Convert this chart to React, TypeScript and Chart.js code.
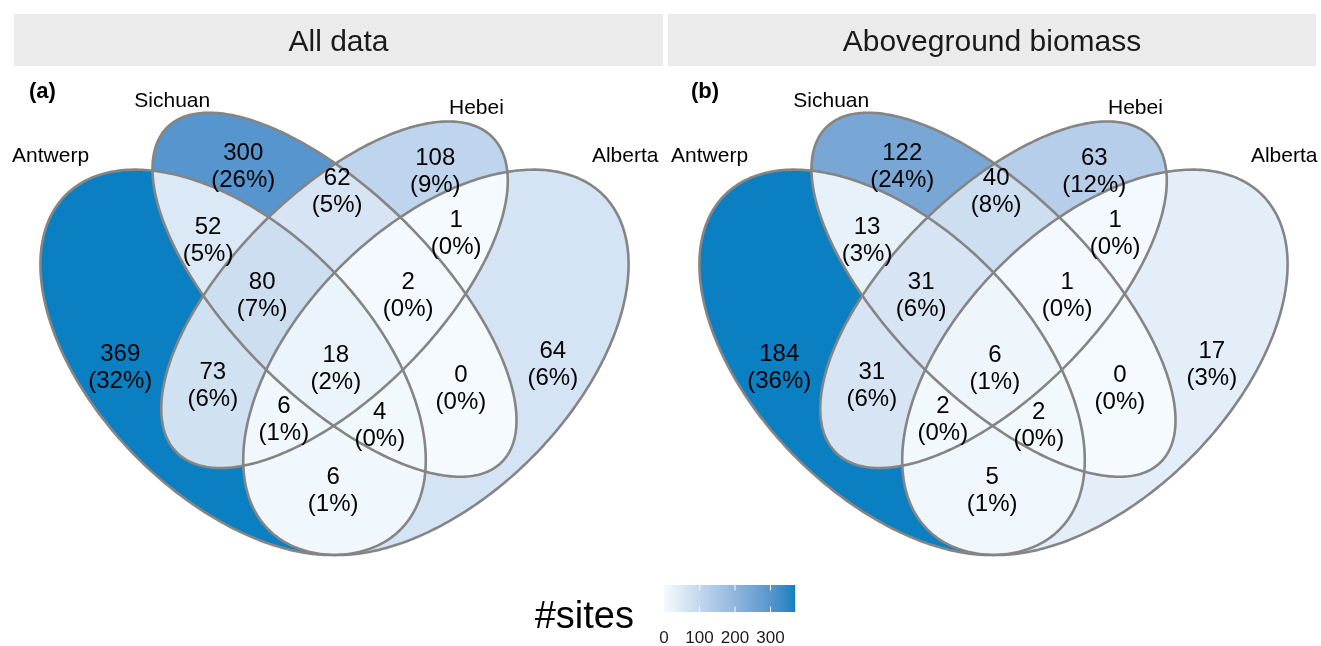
import React, { useEffect, useRef } from 'react';
import { Chart, registerables } from 'chart.js';

Chart.register(...registerables);

// ---------------- data ----------------
const SET_NAMES = ['Antwerp', 'Sichuan', 'Hebei', 'Alberta'];
const PANEL_TITLES = ['All data', 'Aboveground biomass'];
const PANEL_TAGS = ['(a)', '(b)'];
// region membership (indices into SET_NAMES)
const REGION_SETS = [
  [0], [1], [2], [3],
  [0, 1], [1, 2], [2, 3],
  [0, 1, 2], [1, 2, 3], [0, 1, 2, 3],
  [0, 2], [1, 3], [0, 2, 3], [0, 1, 3], [0, 3],
];
const COUNTS_ALL = [369, 300, 108, 64, 52, 62, 1, 80, 2, 18, 73, 0, 6, 4, 6];
const COUNTS_AGB = [184, 122, 63, 17, 13, 40, 1, 31, 1, 6, 31, 0, 2, 2, 5];
const PANEL_COUNTS = [COUNTS_ALL, COUNTS_AGB];
const LEGEND_TITLE = '#sites';
const LEGEND_TICKS = [0, 100, 200, 300];

// ---------------- geometry / style ----------------
const W = 1321;
const H = 646;
const LOW_COLOR = '#F4FAFE';
const HIGH_COLOR = '#0A80C2';
const EDGE_COLOR = '#858585';
const FONT = '"Liberation Sans", Arial, Helvetica, sans-serif';

// Venn ellipses in venn units: centre, semi-axes, rotation (deg)
const ELLIPSES = [
  { cx: 0.35, cy: 0.47, a: 0.35, b: 0.2, rot: 135 },
  { cx: 0.5, cy: 0.57, a: 0.35, b: 0.15, rot: 135 },
  { cx: 0.5, cy: 0.57, a: 0.33, b: 0.15, rot: 45 },
  { cx: 0.65, cy: 0.47, a: 0.35, b: 0.2, rot: 45 },
];
// set-name anchor (centre x, baseline y) in venn units
const SET_LABEL_ANCHORS = [
  [0.08, 0.767],
  [0.26, 0.848],
  [0.71, 0.838],
  [0.93, 0.767],
];
// region-label anchors in venn units (same order as REGION_SETS)
const REGION_LABEL_ANCHORS = [
  [0.183, 0.466], [0.365, 0.763], [0.649, 0.756], [0.823, 0.47],
  [0.313, 0.654], [0.504, 0.726], [0.68, 0.664],
  [0.393, 0.573], [0.609, 0.573], [0.502, 0.465],
  [0.32, 0.439], [0.687, 0.435], [0.425, 0.389], [0.567, 0.38], [0.498, 0.284],
];

const UNIT_PX = 676;
const ORIGIN_PX = { x: 334.5, y: 555 };
const ORIGIN_UNITS = { x: 0.5, y: 0.185 };
const PANEL_SHIFT = 659 / UNIT_PX;
const X_MIN = ORIGIN_UNITS.x - ORIGIN_PX.x / UNIT_PX;
const X_MAX = X_MIN + W / UNIT_PX;
const Y_MAX = ORIGIN_UNITS.y + ORIGIN_PX.y / UNIT_PX;
const Y_MIN = Y_MAX - H / UNIT_PX;

const STRIPS = [
  { x: 14, y: 14, w: 649, h: 52 },
  { x: 668, y: 14, w: 648, h: 52 },
];
const TAG_POS = [
  { x: 29, y: 98 },
  { x: 691, y: 98 },
];
const LEGEND_BAR = { x: 664, y: 585, w: 131, h: 27 };

// ---------------- helpers ----------------
function hexToRgb(h: string) {
  return [1, 3, 5].map((i) => parseInt(h.slice(i, i + 2), 16));
}
function toLin(c: number) {
  c /= 255;
  return c <= 0.04045 ? c / 12.92 : Math.pow((c + 0.055) / 1.055, 2.4);
}
function fromLin(c: number) {
  const v = c <= 0.0031308 ? 12.92 * c : 1.055 * Math.pow(c, 1 / 2.4) - 0.055;
  return Math.round(Math.max(0, Math.min(1, v)) * 255);
}
function rgbToLab(rgb: number[]) {
  const [R, G, B] = rgb.map(toLin);
  const X = (0.4124 * R + 0.3576 * G + 0.1805 * B) / 0.95047;
  const Y = 0.2126 * R + 0.7152 * G + 0.0722 * B;
  const Z = (0.0193 * R + 0.1192 * G + 0.9505 * B) / 1.08883;
  const f = (t: number) => (t > 0.008856 ? Math.cbrt(t) : 7.787 * t + 16 / 116);
  const fx = f(X), fy = f(Y), fz = f(Z);
  return [116 * fy - 16, 500 * (fx - fy), 200 * (fy - fz)];
}
function labToRgb(lab: number[]) {
  const [L, a, b] = lab;
  const fy = (L + 16) / 116;
  const fx = fy + a / 500;
  const fz = fy - b / 200;
  const inv = (t: number) => (t ** 3 > 0.008856 ? t ** 3 : (t - 16 / 116) / 7.787);
  const X = 0.95047 * inv(fx);
  const Y = inv(fy);
  const Z = 1.08883 * inv(fz);
  const r = 3.2406 * X - 1.5372 * Y - 0.4986 * Z;
  const g = -0.9689 * X + 1.8758 * Y + 0.0415 * Z;
  const bb = 0.0557 * X - 0.204 * Y + 1.057 * Z;
  return [fromLin(r), fromLin(g), fromLin(bb)];
}
const LOW_LAB = rgbToLab(hexToRgb(LOW_COLOR));
const HIGH_LAB = rgbToLab(hexToRgb(HIGH_COLOR));
function fillColor(t: number) {
  const tt = Math.max(0, Math.min(1, t));
  const lab = LOW_LAB.map((v, i) => v + (HIGH_LAB[i] - v) * tt);
  const [r, g, b] = labToRgb(lab);
  return `rgb(${r},${g},${b})`;
}

function traceEllipse(ctx: CanvasRenderingContext2D, e: any, shift: number, xs: any, ys: any) {
  const r = (e.rot * Math.PI) / 180;
  for (let i = 0; i <= 360; i++) {
    const t = (i * Math.PI) / 180;
    const x = e.cx + shift + e.a * Math.cos(t) * Math.cos(r) - e.b * Math.sin(t) * Math.sin(r);
    const y = e.cy + e.a * Math.cos(t) * Math.sin(r) + e.b * Math.sin(t) * Math.cos(r);
    const px = xs.getPixelForValue(x);
    const py = ys.getPixelForValue(y);
    if (i === 0) ctx.moveTo(px, py);
    else ctx.lineTo(px, py);
  }
  ctx.closePath();
}

const vennPlugin = {
  id: 'venn',
  afterDraw(chart: any) {
    const ctx: CanvasRenderingContext2D = chart.ctx;
    const xs = chart.scales.x;
    const ys = chart.scales.y;
    ctx.save();

    // strips
    STRIPS.forEach((s, p) => {
      ctx.fillStyle = '#EBEBEB';
      ctx.fillRect(s.x, s.y, s.w, s.h);
      ctx.fillStyle = '#1A1A1A';
      ctx.font = `30px ${FONT}`;
      ctx.textAlign = 'center';
      ctx.textBaseline = 'alphabetic';
      ctx.fillText(PANEL_TITLES[p], s.x + s.w / 2, 51);
    });

    PANEL_COUNTS.forEach((counts, p) => {
      const shift = p * PANEL_SHIFT;
      const max = Math.max(...counts);
      const total = counts.reduce((a, b) => a + b, 0);

      // region fills
      REGION_SETS.forEach((sets, r) => {
        ctx.save();
        ELLIPSES.forEach((e, i) => {
          ctx.beginPath();
          if (sets.includes(i)) {
            traceEllipse(ctx, e, shift, xs, ys);
            ctx.clip();
          } else {
            ctx.rect(0, 0, W, H);
            traceEllipse(ctx, e, shift, xs, ys);
            ctx.clip('evenodd');
          }
        });
        ctx.fillStyle = fillColor(counts[r] / max);
        ctx.fillRect(0, 0, W, H);
        ctx.restore();
      });

      // outlines
      ctx.strokeStyle = EDGE_COLOR;
      ctx.lineWidth = 2.6;
      ELLIPSES.forEach((e) => {
        ctx.beginPath();
        traceEllipse(ctx, e, shift, xs, ys);
        ctx.stroke();
      });

      // region labels
      const meta = chart.getDatasetMeta(p);
      ctx.fillStyle = '#000000';
      ctx.font = `24px ${FONT}`;
      ctx.textAlign = 'center';
      ctx.textBaseline = 'alphabetic';
      counts.forEach((v, r) => {
        const el = meta.data[r];
        const pct = Math.round((100 * v) / total);
        ctx.fillText(String(v), el.x, el.y - 4);
        ctx.fillText(`(${pct}%)`, el.x, el.y + 23);
      });

      // set names
      ctx.font = `21px ${FONT}`;
      SET_NAMES.forEach((name, i) => {
        const [ux, uy] = SET_LABEL_ANCHORS[i];
        ctx.fillText(name, xs.getPixelForValue(ux + shift), ys.getPixelForValue(uy));
      });

      // tag
      ctx.font = `bold 22px ${FONT}`;
      ctx.textAlign = 'left';
      ctx.fillText(PANEL_TAGS[p], TAG_POS[p].x, TAG_POS[p].y);
    });

    // legend
    const lb = LEGEND_BAR;
    const legendMax = Math.max(...COUNTS_ALL);
    for (let i = 0; i < lb.w; i++) {
      ctx.fillStyle = fillColor((i + 0.5) / lb.w);
      ctx.fillRect(lb.x + i, lb.y, 1.2, lb.h);
    }
    ctx.strokeStyle = '#FFFFFF';
    ctx.lineWidth = 1;
    ctx.fillStyle = '#1A1A1A';
    ctx.font = `17px ${FONT}`;
    ctx.textAlign = 'center';
    LEGEND_TICKS.forEach((t) => {
      const x = lb.x + (t / legendMax) * lb.w;
      if (t > 0) {
        ctx.beginPath();
        ctx.moveTo(x, lb.y);
        ctx.lineTo(x, lb.y + lb.h / 5);
        ctx.moveTo(x, lb.y + lb.h);
        ctx.lineTo(x, lb.y + lb.h - lb.h / 5);
        ctx.stroke();
      }
      ctx.fillText(String(t), x, 643);
    });
    ctx.font = `38px ${FONT}`;
    ctx.textAlign = 'right';
    ctx.fillStyle = '#000000';
    ctx.fillText(LEGEND_TITLE, 634, 628);

    ctx.restore();
  },
};

export default function App() {
  const ref = useRef<HTMLCanvasElement | null>(null);
  useEffect(() => {
    if (!ref.current) return;
    const chart = new Chart(ref.current, {
      type: 'scatter',
      data: {
        datasets: PANEL_COUNTS.map((counts, p) => ({
          label: PANEL_TITLES[p],
          data: counts.map((_, r) => ({
            x: REGION_LABEL_ANCHORS[r][0] + p * PANEL_SHIFT,
            y: REGION_LABEL_ANCHORS[r][1],
          })),
          pointRadius: 0,
          pointHoverRadius: 0,
        })),
      },
      options: {
        responsive: false,
        animation: false,
        layout: { padding: 0 },
        events: [],
        plugins: {
          legend: { display: false },
          tooltip: { enabled: false },
          title: { display: false },
        },
        scales: {
          x: { type: 'linear', min: X_MIN, max: X_MAX, display: false },
          y: { type: 'linear', min: Y_MIN, max: Y_MAX, display: false },
        },
      },
      plugins: [vennPlugin],
    } as any);
    return () => chart.destroy();
  }, []);
  return (
    <div style={{ position: 'absolute', left: 0, top: 0, width: W, height: H, background: '#FFFFFF' }}>
      <canvas ref={ref} width={W} height={H} style={{ display: 'block' }} />
    </div>
  );
}
